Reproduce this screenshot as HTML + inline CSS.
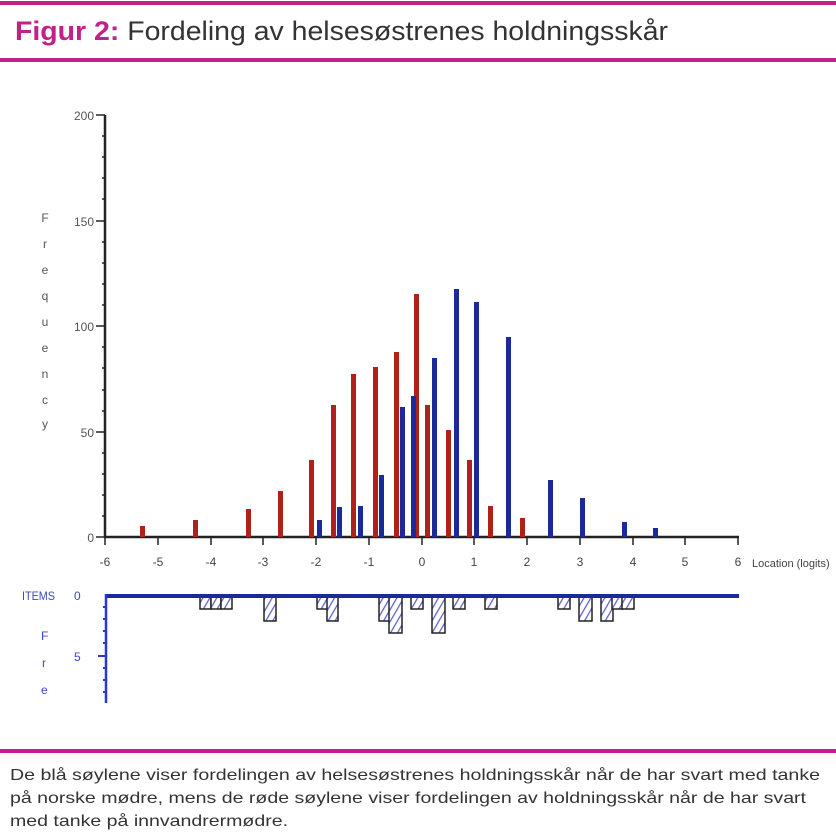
<!DOCTYPE html>
<html><head><meta charset="utf-8"><style>
html,body{margin:0;padding:0;background:#fff;}
svg{display:block;font-family:"Liberation Sans",sans-serif;}
</style></head><body>
<svg width="836" height="832" viewBox="0 0 836 832" xmlns="http://www.w3.org/2000/svg">
<defs>
<pattern id="h" width="6" height="6" patternUnits="userSpaceOnUse" patternTransform="rotate(30)">
<rect width="6" height="6" fill="#fff"/><line x1="0" y1="0" x2="0" y2="6" stroke="#5a5fd0" stroke-width="2.5"/>
</pattern>
</defs>
<rect x="0" y="1" width="836" height="4" fill="#c0228a"/>
<rect x="0" y="58" width="836" height="4" fill="#c0228a"/>
<text x="15" y="40" font-size="27" textLength="653" lengthAdjust="spacingAndGlyphs" fill="#333"><tspan fill="#c0228a" font-weight="bold">Figur 2:</tspan> Fordeling av helsesøstrenes holdningsskår</text>

<g stroke="#222" fill="none">
<line x1="105" y1="115" x2="105" y2="538" stroke-width="2.5"/>
<line x1="104" y1="537" x2="739" y2="537" stroke-width="2.5"/>
</g>
<g stroke="#222" stroke-width="1.5">
<line x1="96" y1="115" x2="105" y2="115"/><line x1="96" y1="221" x2="105" y2="221"/>
<line x1="96" y1="326" x2="105" y2="326"/><line x1="96" y1="432" x2="105" y2="432"/>
<line x1="96" y1="537" x2="105" y2="537"/>
</g>
<g stroke="#222" stroke-width="1.5">
<line x1="102" y1="136" x2="105" y2="136"/><line x1="102" y1="157" x2="105" y2="157"/><line x1="102" y1="178" x2="105" y2="178"/><line x1="102" y1="199" x2="105" y2="199"/>
<line x1="102" y1="242" x2="105" y2="242"/><line x1="102" y1="263" x2="105" y2="263"/><line x1="102" y1="284" x2="105" y2="284"/><line x1="102" y1="305" x2="105" y2="305"/>
<line x1="102" y1="347" x2="105" y2="347"/><line x1="102" y1="368" x2="105" y2="368"/><line x1="102" y1="390" x2="105" y2="390"/><line x1="102" y1="411" x2="105" y2="411"/>
<line x1="102" y1="453" x2="105" y2="453"/><line x1="102" y1="474" x2="105" y2="474"/><line x1="102" y1="495" x2="105" y2="495"/><line x1="102" y1="516" x2="105" y2="516"/>
</g>
<g fill="#555" font-size="12" text-anchor="end">
<text x="94" y="120">200</text><text x="94" y="226">150</text><text x="94" y="331">100</text><text x="94" y="437">50</text><text x="94" y="542">0</text>
</g>
<g fill="#555" font-size="12" text-anchor="middle">
<text x="45" y="222">F</text><text x="45" y="248">r</text><text x="45" y="274">e</text><text x="45" y="300">q</text><text x="45" y="326">u</text><text x="45" y="352">e</text><text x="45" y="378">n</text><text x="45" y="404">c</text><text x="45" y="428">y</text>
</g>
<g stroke="#222" stroke-width="1.5">
<line x1="105" y1="537" x2="105" y2="545"/><line x1="158" y1="537" x2="158" y2="545"/><line x1="211" y1="537" x2="211" y2="545"/><line x1="263" y1="537" x2="263" y2="545"/><line x1="316" y1="537" x2="316" y2="545"/><line x1="369" y1="537" x2="369" y2="545"/><line x1="422" y1="537" x2="422" y2="545"/><line x1="474" y1="537" x2="474" y2="545"/><line x1="527" y1="537" x2="527" y2="545"/><line x1="580" y1="537" x2="580" y2="545"/><line x1="633" y1="537" x2="633" y2="545"/><line x1="685" y1="537" x2="685" y2="545"/><line x1="738" y1="537" x2="738" y2="545"/>
</g>
<g fill="#444" font-size="12" text-anchor="middle">
<text x="105" y="566">-6</text><text x="158" y="566">-5</text><text x="211" y="566">-4</text><text x="263" y="566">-3</text><text x="316" y="566">-2</text><text x="369" y="566">-1</text><text x="422" y="566">0</text><text x="474" y="566">1</text><text x="527" y="566">2</text><text x="580" y="566">3</text><text x="633" y="566">4</text><text x="685" y="566">5</text><text x="738" y="566">6</text>
<text x="752" y="567" text-anchor="start" font-size="11">Location (logits)</text>
</g>
<g fill="#b0211a">
<rect x="140" y="526" width="5" height="11"/><rect x="193" y="520" width="5" height="17"/><rect x="246" y="509" width="5" height="28"/><rect x="278" y="491" width="5" height="46"/><rect x="309" y="460" width="5" height="77"/><rect x="331" y="405" width="5" height="132"/><rect x="351" y="374" width="5" height="163"/><rect x="373" y="367" width="5" height="170"/><rect x="394" y="352" width="5" height="185"/><rect x="414" y="294" width="5" height="243"/><rect x="425" y="405" width="5" height="132"/><rect x="446" y="430" width="5" height="107"/><rect x="467" y="460" width="5" height="77"/><rect x="488" y="506" width="5" height="31"/><rect x="520" y="518" width="5" height="19"/>
</g>
<g fill="#1b2a9a">
<rect x="317" y="520" width="5" height="17"/><rect x="337" y="507" width="5" height="30"/><rect x="358" y="506" width="5" height="31"/><rect x="379" y="475" width="5" height="62"/><rect x="400" y="407" width="5" height="130"/><rect x="411" y="396" width="5" height="141"/><rect x="432" y="358" width="5" height="179"/><rect x="454" y="289" width="5" height="248"/><rect x="474" y="302" width="5" height="235"/><rect x="506" y="337" width="5" height="200"/><rect x="548" y="480" width="5" height="57"/><rect x="580" y="498" width="5" height="39"/><rect x="622" y="522" width="5" height="15"/><rect x="653" y="528" width="5" height="9"/>
</g>

<g fill="url(#h)" stroke="#222" stroke-width="1.5">
<rect x="200" y="597" width="11" height="12"/><rect x="211" y="597" width="10" height="12"/><rect x="221" y="597" width="11" height="12"/>
<rect x="264" y="597" width="12" height="24"/>
<rect x="317" y="597" width="11" height="12"/><rect x="327" y="597" width="11" height="24"/>
<rect x="379" y="597" width="11" height="24"/><rect x="389" y="597" width="13" height="36"/>
<rect x="411" y="597" width="12" height="12"/><rect x="432" y="597" width="13" height="36"/>
<rect x="453" y="597" width="12" height="12"/><rect x="485" y="597" width="12" height="12"/>
<rect x="558" y="597" width="12" height="12"/><rect x="579" y="597" width="13" height="24"/><rect x="601" y="597" width="12" height="24"/><rect x="612" y="597" width="11" height="12"/><rect x="622" y="597" width="12" height="12"/>
</g>
<line x1="105" y1="596" x2="739" y2="596" stroke="#1b2a9a" stroke-width="4"/>
<line x1="106" y1="594" x2="106" y2="703" stroke="#2838d8" stroke-width="2.5"/>
<g stroke="#2838d8" stroke-width="2">
<line x1="103" y1="607" x2="106" y2="607"/><line x1="103" y1="619" x2="106" y2="619"/><line x1="103" y1="631" x2="106" y2="631"/><line x1="103" y1="643" x2="106" y2="643"/><line x1="98" y1="656" x2="106" y2="656"/><line x1="103" y1="668" x2="106" y2="668"/><line x1="103" y1="680" x2="106" y2="680"/><line x1="103" y1="692" x2="106" y2="692"/>
</g>
<g fill="#3a48c8" font-size="12">
<text x="22" y="600" font-size="12" textLength="33" lengthAdjust="spacingAndGlyphs">ITEMS</text>
<text x="74" y="600">0</text><text x="74" y="661">5</text>
<text x="41" y="640">F</text><text x="42" y="667">r</text><text x="41" y="694">e</text>
</g>

<rect x="0" y="749" width="836" height="4" fill="#c0228a"/>
<g fill="#333" font-size="16">
<text x="10" y="780" textLength="810" lengthAdjust="spacingAndGlyphs">De blå søylene viser fordelingen av helsesøstrenes holdningsskår når de har svart med tanke</text>
<text x="10" y="803" textLength="796" lengthAdjust="spacingAndGlyphs">på norske mødre, mens de røde søylene viser fordelingen av holdningsskår når de har svart</text>
<text x="10" y="826" textLength="278" lengthAdjust="spacingAndGlyphs">med tanke på innvandrermødre.</text>
</g>
</svg>
</body></html>
